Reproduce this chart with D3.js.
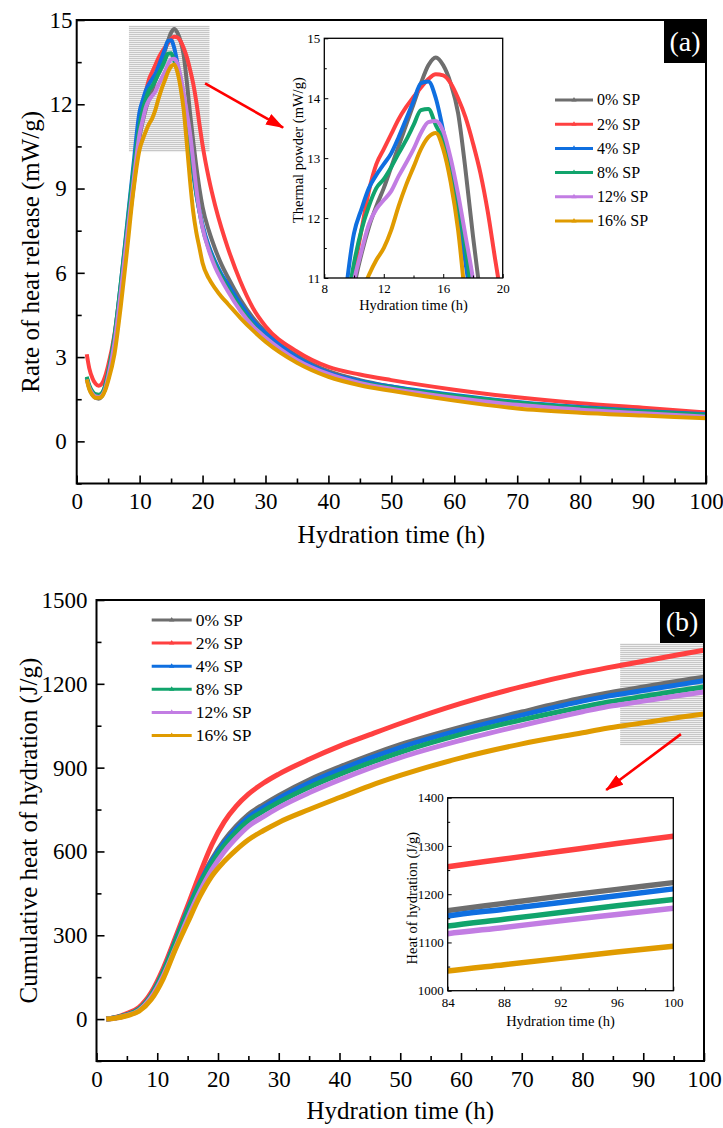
<!DOCTYPE html>
<html>
<head>
<meta charset="utf-8">
<script src="https://cdn.jsdelivr.net/npm/d3@7"></script>
<style>
  html, body { margin: 0; padding: 0; background: #fff; }
  svg { display: block; font-family: "Liberation Serif", Tinos, "Times New Roman", "DejaVu Serif", serif; }
  svg text { font-family: "Liberation Serif", Tinos, "Times New Roman", "DejaVu Serif", serif !important; }
</style>
</head>
<body>
<svg id="fig" width="723" height="1128"></svg>
<script>
// ---- series ----
const seriesNames  = ["0% SP", "2% SP", "4% SP", "8% SP", "12% SP", "16% SP"];
const seriesColors = ["#6e6e6e", "#ff4040", "#0f6fe0", "#11a46c", "#c27de3", "#e09b00"];

// ---- heat-flow curves (mW/g) vs hydration time (h) ----
const rateTime = [1.6, 2, 2.5, 3, 3.5, 4, 4.5, 5, 6, 7, 8, 9,
  10, 10.5, 11, 11.5, 12, 12.5, 13, 13.5, 14, 14.5, 15, 15.5, 16, 16.5, 17, 17.5, 18, 18.5, 19, 19.5, 20,
  21, 22, 23, 24, 26, 28, 30, 35, 40, 45, 50, 60, 70, 80, 90, 100];
const rateSP0  = [2.25, 1.9, 1.65, 1.55, 1.52, 1.6, 1.85, 2.25, 3.4, 5.2, 7.2, 9.0,
  10.85, 11.4, 11.85, 12.2, 12.5, 12.85, 13.2, 13.55, 13.9, 14.25, 14.55, 14.68, 14.55, 14.25, 13.75, 12.8, 11.7, 10.7, 9.8, 9.0, 8.35,
  7.5, 6.85, 6.3, 5.85, 5.05, 4.4, 3.9, 3.05, 2.5, 2.18, 1.95, 1.6, 1.36, 1.18, 1.06, 0.96];
const rateSP2  = [3.1, 2.6, 2.25, 2.05, 1.98, 2.05, 2.3, 2.7, 3.8, 5.5, 7.5, 9.3,
  11.1, 11.8, 12.45, 12.9, 13.15, 13.4, 13.65, 13.85, 14.02, 14.18, 14.32, 14.4, 14.38, 14.25, 14.0, 13.68, 13.25, 12.75, 12.1, 11.3, 10.55,
  9.35, 8.4, 7.6, 6.9, 5.7, 4.75, 4.1, 3.2, 2.65, 2.38, 2.18, 1.84, 1.57, 1.36, 1.2, 1.03];
const rateSP4  = [2.25, 1.95, 1.75, 1.65, 1.63, 1.7, 1.95, 2.4, 3.7, 5.6, 7.7, 9.8,
  11.75, 12.15, 12.5, 12.72, 12.9, 13.08, 13.35, 13.65, 13.95, 14.25, 14.28, 14.0, 13.45, 12.75, 12.0, 11.25, 10.4, 9.55, 8.8, 8.2, 7.7,
  6.95, 6.4, 5.95, 5.6, 4.9, 4.3, 3.85, 3.0, 2.45, 2.15, 1.95, 1.65, 1.4, 1.22, 1.08, 0.97];
const rateSP8  = [2.3, 2.0, 1.78, 1.68, 1.66, 1.72, 1.97, 2.45, 3.75, 5.6, 7.6, 9.6,
  11.25, 11.8, 12.2, 12.5, 12.65, 12.85, 13.08, 13.3, 13.55, 13.8, 13.82, 13.55, 13.3, 12.9, 12.25, 11.5, 10.6, 9.7, 8.85, 8.2, 7.6,
  6.85, 6.3, 5.85, 5.45, 4.75, 4.15, 3.7, 2.85, 2.35, 2.1, 1.92, 1.62, 1.38, 1.2, 1.06, 0.94];
const rateSP12 = [2.2, 1.9, 1.7, 1.6, 1.58, 1.64, 1.85, 2.3, 3.5, 5.3, 7.3, 9.2,
  10.95, 11.45, 11.9, 12.15, 12.3, 12.45, 12.7, 12.92, 13.15, 13.42, 13.6, 13.62, 13.45, 13.0, 12.4, 11.7, 10.98, 10.0, 9.0, 8.2, 7.6,
  6.8, 6.2, 5.75, 5.35, 4.65, 4.1, 3.7, 2.9, 2.4, 2.08, 1.87, 1.55, 1.3, 1.13, 1.0, 0.88];
const rateSP16 = [2.2, 1.85, 1.65, 1.55, 1.55, 1.6, 1.8, 2.15, 3.1, 4.8, 6.8, 8.9,
  10.4, 10.75, 11.05, 11.3, 11.5, 11.8, 12.2, 12.55, 12.85, 13.15, 13.35, 13.42, 13.15, 12.6, 11.8, 10.6, 9.3, 8.2, 7.45, 6.9, 6.35,
  5.8, 5.45, 5.15, 4.9, 4.4, 3.95, 3.55, 2.8, 2.3, 2.0, 1.8, 1.45, 1.17, 1.02, 0.92, 0.82];

// ---- cumulative heat (J/g) vs hydration time (h) ----
const cumTime  = [1.6, 3, 5, 7, 9, 11, 13, 15, 17, 19, 21, 23, 25, 27.5, 30, 35, 40, 45, 50, 60, 70, 80, 84, 88, 92, 96, 100];
const cumSP0   = [0, 4, 14, 33, 84, 168, 278, 392, 492, 572, 638, 690, 732, 768, 800, 856, 902, 944, 982, 1045, 1099, 1149, 1166, 1181, 1196, 1210, 1224];
const cumSP2   = [0, 5, 20, 42, 95, 182, 292, 405, 520, 625, 705, 762, 805, 845, 877, 930, 977, 1018, 1058, 1130, 1190, 1240, 1257, 1273, 1289, 1305, 1320];
const cumSP4   = [0, 4, 15, 35, 85, 170, 280, 390, 488, 566, 630, 680, 722, 758, 790, 845, 892, 934, 972, 1035, 1088, 1138, 1155, 1169, 1183, 1197, 1211];
const cumSP8   = [0, 4, 15, 35, 85, 168, 276, 385, 482, 558, 620, 669, 710, 745, 776, 830, 876, 917, 955, 1019, 1071, 1117, 1134, 1148, 1162, 1176, 1189];
const cumSP12  = [0, 3, 13, 31, 78, 155, 255, 360, 455, 535, 598, 648, 690, 725, 757, 810, 856, 898, 936, 998, 1051, 1100, 1118, 1131, 1145, 1158, 1171];
const cumSP16  = [0, 3, 12, 28, 70, 145, 250, 345, 438, 512, 564, 606, 642, 675, 704, 750, 793, 835, 872, 935, 985, 1025, 1041, 1054, 1067, 1080, 1092];

// ---- tick values ----
const timeTicks      = [0, 10, 20, 30, 40, 50, 60, 70, 80, 90, 100];
const timeMinor      = [5, 15, 25, 35, 45, 55, 65, 75, 85, 95];
const rateTicks      = [0, 3, 6, 9, 12, 15];
const rateMinor      = [-1.5, 1.5, 4.5, 7.5, 10.5, 13.5];
const zoomRateXTicks = [8, 12, 16, 20];
const zoomRateXMinor = [10, 14, 18];
const zoomRateYTicks = [11, 12, 13, 14, 15];
const zoomRateYMinor = [11.5, 12.5, 13.5, 14.5];
const cumTicks       = [0, 300, 600, 900, 1200, 1500];
const cumMinor       = [-150, 150, 450, 750, 1050, 1350];
const zoomCumXTicks  = [84, 88, 92, 96, 100];
const zoomCumXMinor  = [86, 90, 94, 98];
const zoomCumYTicks  = [1000, 1100, 1200, 1300, 1400];
const zoomCumYMinor  = [1050, 1150, 1250, 1350];

const rateSeries = [rateSP0, rateSP2, rateSP4, rateSP8, rateSP12, rateSP16]
  .map((vals, i) => ({ name: seriesNames[i], color: seriesColors[i], pts: vals.map((v, j) => ({ t: rateTime[j], v })) }));
const cumSeries = [cumSP0, cumSP2, cumSP4, cumSP8, cumSP12, cumSP16]
  .map((vals, i) => ({ name: seriesNames[i], color: seriesColors[i], pts: vals.map((v, j) => ({ t: cumTime[j], v })) }));

const SERIF = '"Liberation Serif", Tinos, "Times New Roman", "DejaVu Serif", serif';
const svg = d3.select("#fig");
const defs = svg.append("defs");

// grey ruled fill marking the magnified windows
const hatch = defs.append("pattern").attr("id", "ruled").attr("patternUnits", "userSpaceOnUse")
  .attr("width", 4).attr("height", 2);
hatch.append("rect").attr("width", 4).attr("height", 2).attr("fill", "#efefef");
hatch.append("line").attr("x1", 0).attr("x2", 4).attr("y1", 0.5).attr("y2", 0.5)
  .attr("stroke", "#c3c3c3").attr("stroke-width", 0.9);

defs.append("marker").attr("id", "arrowHead").attr("markerUnits", "userSpaceOnUse")
  .attr("viewBox", "0 0 18 12").attr("refX", 17).attr("refY", 6)
  .attr("markerWidth", 18).attr("markerHeight", 12).attr("orient", "auto")
  .append("path").attr("d", "M0,0 L18,6 L0,12 Z").attr("fill", "#ff0000");

function serifText(sel, size) {
  return sel.style("font-family", SERIF).attr("font-size", size).attr("fill", "#000");
}

// axis helper: inward ticks, no domain path (frame drawn separately)
function axisGroup(gen, transform, fontSize, tickW) {
  const g = svg.append("g").attr("transform", transform).call(gen);
  g.attr("font-family", null);
  g.select(".domain").remove();
  g.selectAll("line").attr("stroke", "#000").attr("stroke-width", tickW);
  serifText(g.selectAll("text"), fontSize);
  return g;
}

function drawPanel(o) {
  const { x, y } = o;
  const [x0, x1] = x.range(), [y0, y1] = y.range();
  const clipId = o.id + "-clip";
  defs.append("clipPath").attr("id", clipId)
    .append("rect").attr("x", x0).attr("y", y1).attr("width", x1 - x0).attr("height", y0 - y1);

  if (o.background) {
    svg.append("rect").attr("x", x0).attr("y", y1).attr("width", x1 - x0).attr("height", y0 - y1).attr("fill", "#fff");
  }
  if (o.window) {
    const w = o.window;
    svg.append("rect").attr("x", x(w.t0)).attr("y", y(w.v1))
      .attr("width", x(w.t1) - x(w.t0)).attr("height", y(w.v0) - y(w.v1))
      .attr("fill", "url(#ruled)");
  }

  const line = d3.line().x(d => x(d.t)).y(d => y(d.v)).curve(d3.curveMonotoneX);
  svg.append("g").attr("clip-path", `url(#${clipId})`)
    .selectAll("path").data(o.series).join("path")
    .attr("d", d => line(d.pts)).attr("fill", "none")
    .attr("stroke", d => d.color).attr("stroke-width", o.lineW)
    .attr("stroke-linejoin", "round").attr("stroke-linecap", "butt");

  // axes
  axisGroup(d3.axisBottom(x).tickValues(o.xTicks).tickSizeInner(-o.tickLen).tickSizeOuter(0).tickPadding(o.xPad).tickFormat(d3.format("d")),
    `translate(0,${y0})`, o.tickFont, o.tickW);
  axisGroup(d3.axisBottom(x).tickValues(o.xMinor).tickSizeInner(-o.minorLen).tickSizeOuter(0).tickFormat(""),
    `translate(0,${y0})`, o.tickFont, o.tickW);
  const ya = axisGroup(d3.axisLeft(y).tickValues(o.yTicks).tickSizeInner(-o.tickLen).tickSizeOuter(0).tickPadding(o.yPad).tickFormat(d3.format("d")),
    `translate(${x0},0)`, o.tickFont, o.tickW);
  if (o.yLabelCenter !== undefined) {
    ya.selectAll("text").attr("text-anchor", "middle").attr("x", o.yLabelCenter - x0);
  }
  axisGroup(d3.axisLeft(y).tickValues(o.yMinor).tickSizeInner(-o.minorLen).tickSizeOuter(0).tickFormat(""),
    `translate(${x0},0)`, o.tickFont, o.tickW);

  // frame
  svg.append("rect").attr("x", x0).attr("y", y1).attr("width", x1 - x0).attr("height", y0 - y1)
    .attr("fill", "none").attr("stroke", "#000").attr("stroke-width", o.frameW);

  // titles
  serifText(svg.append("text").attr("x", (x0 + x1) / 2).attr("y", o.xTitleY)
    .attr("text-anchor", "middle"), o.titleFont).text(o.xTitle);
  serifText(svg.append("text").attr("transform", `translate(${o.yTitleX},${(y0 + y1) / 2 + (o.yTitleShift || 0)}) rotate(-90)`)
    .attr("text-anchor", "middle").attr("dy", "0.33em"), o.titleFont).text(o.yTitle);
}

function drawLegend(series, left, top, rowH, lineLen, fontSize) {
  const g = svg.append("g");
  const tri = d3.symbol().type(d3.symbolTriangle).size(12);
  series.forEach((s, i) => {
    const yy = top + i * rowH;
    g.append("line").attr("x1", left).attr("x2", left + lineLen).attr("y1", yy).attr("y2", yy)
      .attr("stroke", s.color).attr("stroke-width", 3);
    g.append("path").attr("d", tri).attr("transform", `translate(${left + lineLen / 2},${yy})`).attr("fill", s.color);
    serifText(g.append("text").attr("x", left + lineLen + 4).attr("y", yy).attr("dy", "0.34em"), fontSize).text(s.name);
  });
}

function tagBox(label, x0, x1, y0, y1) {
  svg.append("rect").attr("x", x0).attr("y", y0).attr("width", x1 - x0).attr("height", y1 - y0).attr("fill", "#000");
  serifText(svg.append("text").attr("x", (x0 + x1) / 2).attr("y", (y0 + y1) / 2).attr("dy", "0.33em")
    .attr("text-anchor", "middle"), 28).attr("fill", "#fff").text(label);
}

function arrow(x, y, from, to) {
  svg.append("line").attr("x1", x(from[0])).attr("y1", y(from[1])).attr("x2", x(to[0])).attr("y2", y(to[1]))
    .attr("stroke", "#ff0000").attr("stroke-width", 2.6).attr("marker-end", "url(#arrowHead)");
}

// ================= (a) heat flow =================
const xA = d3.scaleLinear().domain([0, 100]).range([76.7, 706]);
const yA = d3.scaleLinear().domain([-1.5, 15]).range([483.5, 20]);
drawPanel({
  id: "rate", x: xA, y: yA, series: rateSeries, lineW: 4,
  window: { t0: 8.3, t1: 21.1, v0: 10.3, v1: 14.8 },
  xTicks: timeTicks, xMinor: timeMinor, yTicks: rateTicks, yMinor: rateMinor,
  tickLen: 8, minorLen: 5, tickW: 1.6, frameW: 2, tickFont: 23, xPad: 9, yPad: 6, yLabelCenter: 61,
  titleFont: 25, xTitle: "Hydration time (h)", xTitleY: 543,
  yTitle: "Rate of heat release (mW/g)", yTitleX: 31
});
tagBox("(a)", 664, 706, 20, 63);
arrow(xA, yA, [20.4, 12.74], [32.8, 11.17]);

const xIA = d3.scaleLinear().domain([8, 20]).range([324.3, 502.7]);
const yIA = d3.scaleLinear().domain([11, 15]).range([278, 38.3]);
drawPanel({
  id: "rateZoom", x: xIA, y: yIA, series: rateSeries, lineW: 4, background: true,
  xTicks: zoomRateXTicks, xMinor: zoomRateXMinor, yTicks: zoomRateYTicks, yMinor: zoomRateYMinor,
  tickLen: 4, minorLen: 2.5, tickW: 1, frameW: 1.3, tickFont: 13, xPad: 6, yPad: 4,
  titleFont: 14.5, xTitle: "Hydration time (h)", xTitleY: 310,
  yTitle: "Thermal powder (mW/g)", yTitleX: 298, yTitleShift: -8
});
drawLegend(rateSeries, 555, 100, 24.2, 38, 16);

// ================= (b) cumulative heat =================
const xB = d3.scaleLinear().domain([0, 100]).range([96.5, 704]);
const yB = d3.scaleLinear().domain([-150, 1500]).range([1061, 600]);
drawPanel({
  id: "cum", x: xB, y: yB, series: cumSeries, lineW: 5,
  window: { t0: 86.2, t1: 100, v0: 980, v1: 1345 },
  xTicks: timeTicks, xMinor: timeMinor, yTicks: cumTicks, yMinor: cumMinor,
  tickLen: 8, minorLen: 5, tickW: 1.6, frameW: 2, tickFont: 23, xPad: 10, yPad: 9,
  titleFont: 25, xTitle: "Hydration time (h)", xTitleY: 1119,
  yTitle: "Cumulative heat of hydration (J/g)", yTitleX: 29
});
tagBox("(b)", 660, 704, 600, 643);
arrow(xB, yB, [96.2, 1020], [83.9, 820]);

const xIB = d3.scaleLinear().domain([84, 100]).range([447.7, 673.3]);
const yIB = d3.scaleLinear().domain([1000, 1400]).range([990.7, 797.7]);
drawPanel({
  id: "cumZoom", x: xIB, y: yIB, series: cumSeries, lineW: 5.5, background: true,
  xTicks: zoomCumXTicks, xMinor: zoomCumXMinor, yTicks: zoomCumYTicks, yMinor: zoomCumYMinor,
  tickLen: 4, minorLen: 2.5, tickW: 1, frameW: 1.3, tickFont: 13, xPad: 7.5, yPad: 4,
  titleFont: 14.5, xTitle: "Hydration time (h)", xTitleY: 1026,
  yTitle: "Heat of hydration (J/g)", yTitleX: 412, yTitleShift: 4
});
drawLegend(cumSeries, 151.7, 620, 23.1, 40, 17.5);
</script>
</body>
</html>
